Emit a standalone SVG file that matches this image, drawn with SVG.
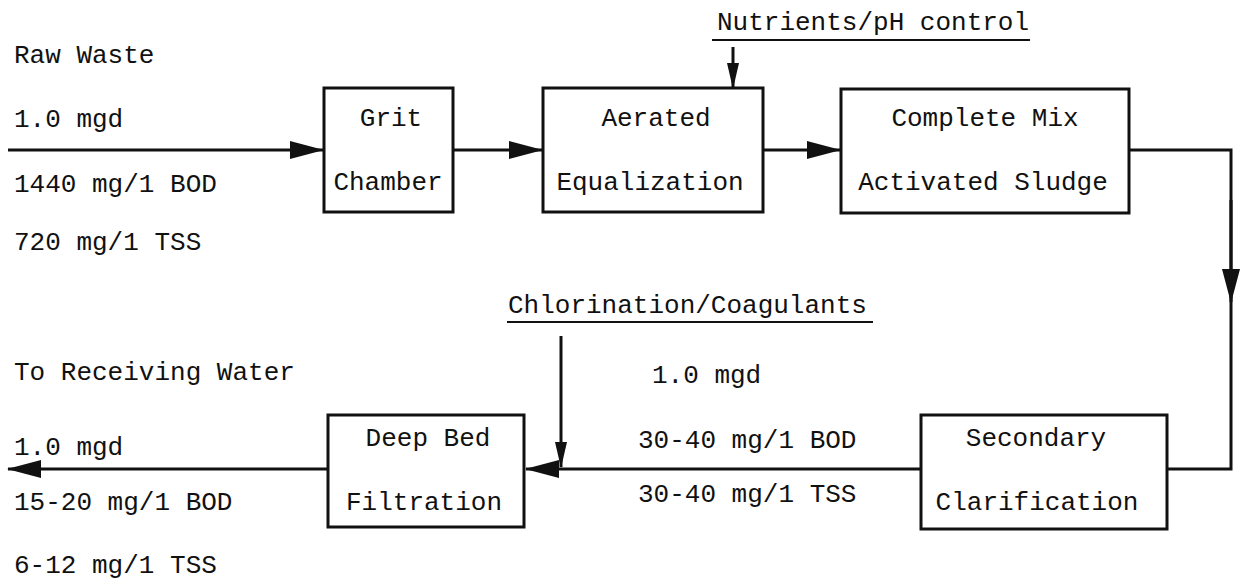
<svg xmlns="http://www.w3.org/2000/svg" width="1241" height="582" viewBox="0 0 1241 582">
<style>
text{font-family:"Liberation Mono","DejaVu Sans Mono",monospace;font-size:26px;fill:#111}
.c{text-anchor:middle}
.box{fill:#fff;stroke:#111;stroke-width:3}
.ln{fill:none;stroke:#111;stroke-width:3}
.thin{fill:none;stroke:#111;stroke-width:2}
</style>
<defs>
<marker id="ah" markerUnits="userSpaceOnUse" markerWidth="34" markerHeight="18" refX="33" refY="9" orient="auto">
<path d="M0,0 L34,9 L0,18 z" fill="#111"/>
</marker>
<marker id="as" markerUnits="userSpaceOnUse" markerWidth="26" markerHeight="14" refX="25" refY="7" orient="auto">
<path d="M0,1 L26,7 L0,13 z" fill="#111"/>
</marker>
</defs>
<rect width="1241" height="582" fill="#fff"/>
<g id="connectors">
<path class="ln" d="M8,150 L323,150" marker-end="url(#ah)"/>
<path class="ln" d="M453,150 L542,150" marker-end="url(#ah)"/>
<path class="ln" d="M763,150 L840,150" marker-end="url(#ah)"/>
<path class="ln" d="M1129,150 L1231,150 L1231,469 L1168,469"/>
<path class="ln" d="M1231,200 L1231,302" marker-end="url(#ah)"/>
<path class="ln" d="M921,469 L526,469" marker-end="url(#ah)"/>
<path class="ln" d="M328,469 L8,469" marker-end="url(#ah)"/>
<path class="ln" d="M733,47 L733,88" marker-end="url(#as)"/>
<path class="ln" d="M561,336 L561,467" marker-end="url(#as)"/>
</g>
<g id="raw-waste">
<text x="14" y="63">Raw Waste</text>
<text x="14" y="127">1.0 mgd</text>
<text x="14" y="192">1440 mg/1 BOD</text>
<text x="14" y="250">720 mg/1 TSS</text>
</g>
<g id="grit-chamber">
<rect class="box" x="324" y="88" width="129" height="124"/>
<text class="c" x="391" y="126">Grit</text>
<text class="c" x="388" y="190">Chamber</text>
</g>
<g id="aerated-equalization">
<rect class="box" x="543" y="88" width="220" height="124"/>
<text class="c" x="656" y="126">Aerated</text>
<text class="c" x="650" y="190">Equalization</text>
</g>
<g id="nutrients">
<text x="717" y="30">Nutrients/pH control</text>
<line class="thin" x1="712" y1="40" x2="1030" y2="40"/>
</g>
<g id="complete-mix">
<rect class="box" x="841" y="89" width="288" height="124"/>
<text class="c" x="985" y="126">Complete Mix</text>
<text class="c" x="983" y="190">Activated Sludge</text>
</g>
<g id="secondary-clarification">
<rect class="box" x="921" y="415" width="246" height="114"/>
<text class="c" x="1036" y="446">Secondary</text>
<text class="c" x="1037" y="510">Clarification</text>
</g>
<g id="secondary-effluent">
<text x="652" y="383">1.0 mgd</text>
<text x="638" y="448">30-40 mg/1 BOD</text>
<text x="638" y="502">30-40 mg/1 TSS</text>
</g>
<g id="chlorination">
<text x="508" y="313">Chlorination/Coagulants</text>
<line class="thin" x1="507" y1="322" x2="873" y2="322"/>
</g>
<g id="deep-bed-filtration">
<rect class="box" x="328" y="415" width="196" height="112"/>
<text class="c" x="428" y="446">Deep Bed</text>
<text class="c" x="424" y="510">Filtration</text>
</g>
<g id="receiving-water">
<text x="14" y="380">To Receiving Water</text>
<text x="14" y="455">1.0 mgd</text>
<text x="14" y="510">15-20 mg/1 BOD</text>
<text x="14" y="573">6-12 mg/1 TSS</text>
</g>
</svg>
